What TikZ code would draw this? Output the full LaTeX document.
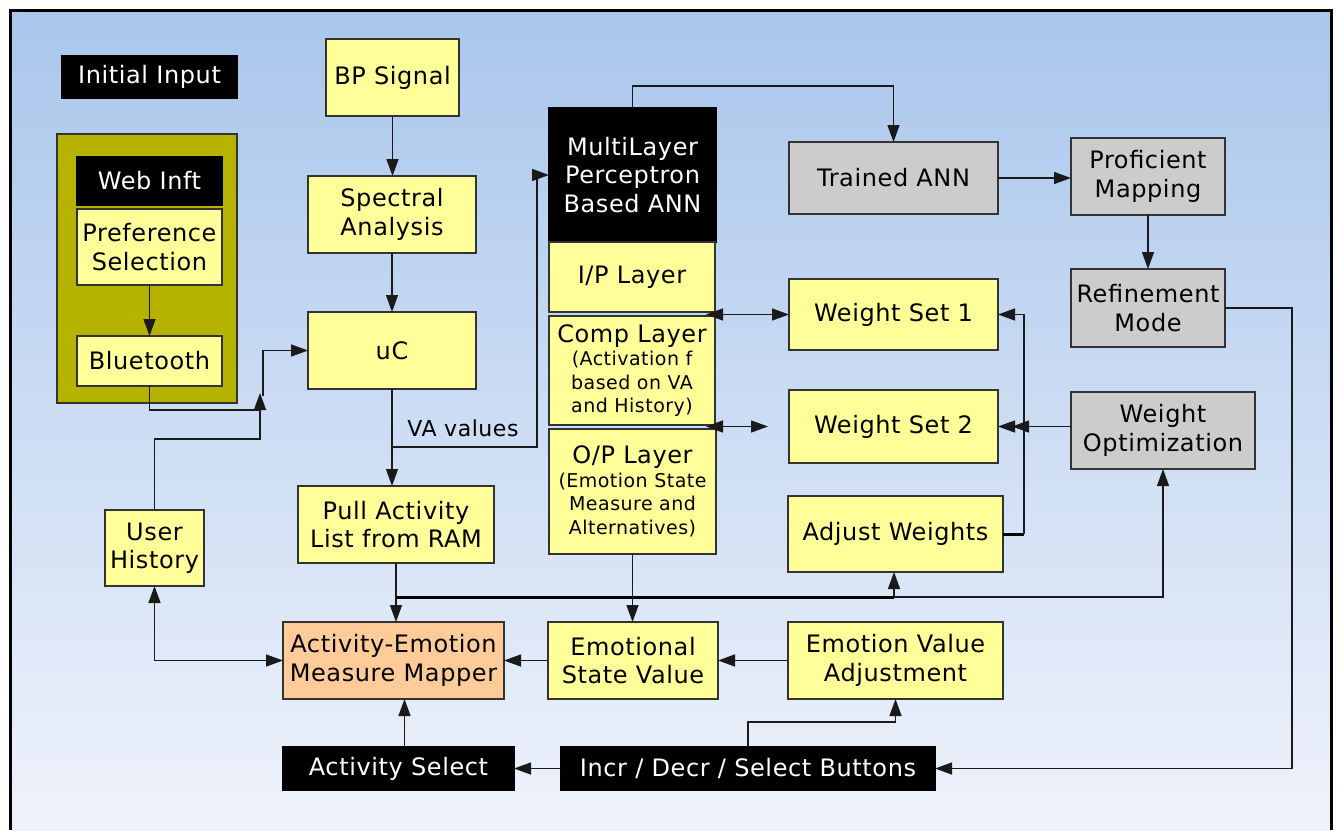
\documentclass[tikz,border=0pt]{standalone}
\usepackage{fontspec}
\setmainfont{DejaVu Sans}[LetterSpace=2.5]
\usetikzlibrary{arrows.meta,calc}
\definecolor{boxyellow}{HTML}{FFFF99}
\definecolor{boxgray}{HTML}{CCCCCC}
\definecolor{boxorange}{HTML}{FFCC99}
\definecolor{boxolive}{HTML}{B5B300}
\definecolor{boxline}{HTML}{333333}
\definecolor{linecol}{HTML}{1A1A1A}
\definecolor{bgtop}{HTML}{A9C6EC}
\definecolor{bgmid}{HTML}{DEE4F1}
\definecolor{bgbot}{HTML}{EFF3FB}
\newcommand\smtxt{\fontsize{19}{23}\selectfont}
\begin{document}
\begin{tikzpicture}[x=1pt,y=-1pt,
  box/.style={draw=boxline,line width=1.4pt,inner sep=0pt,outer sep=0pt,align=center,
    font=\fontsize{24}{28.5}\selectfont,text=black},
  ybox/.style={box,fill=boxyellow},
  gbox/.style={box,fill=boxgray},
  obox/.style={box,fill=boxorange},
  kbox/.style={box,fill=black,draw=black,text=white},
  conn/.style={draw=linecol,line width=1.4pt},
  arr/.style={conn,-{Triangle[length=17pt,width=12pt]}},
  darr/.style={conn,{Triangle[length=17pt,width=12pt]}-{Triangle[length=17pt,width=12pt]}},
  bus/.style={draw=black,line width=3pt}]
\useasboundingbox (0,0) rectangle (1338,830);
\fill[white] (0,0) rectangle (1338,830);
\shade[top color=bgtop,middle color=bgmid,bottom color=bgbot] (10,10) rectangle (1331,830);
\draw[black,line width=3pt] (10,830) -- (10,10) -- (1331,10) -- (1331,830);

% left group
\node[kbox,minimum width=175,minimum height=43] (init) at (149.5,77) {Initial Input};
\node[box,fill=boxolive,minimum width=180,minimum height=269] (olive) at (147,268.5) {};
\node[kbox,minimum width=145,minimum height=48] (web) at (149.5,181) {Web Inft};
\node[ybox,minimum width=145,minimum height=76] (pref) at (149.5,247) {Preference\\Selection};
\node[ybox,minimum width=145,minimum height=50] (bt) at (149.5,361) {Bluetooth};
\node[ybox,minimum width=99,minimum height=76] (uh) at (154.5,548) {User\\History};

% center column
\node[ybox,minimum width=133,minimum height=77] (bp) at (392.5,77.5) {BP Signal};
\node[ybox,minimum width=168,minimum height=77] (spec) at (392,214.5) {Spectral\\Analysis};
\node[ybox,minimum width=168,minimum height=77] (uc) at (392,350.5) {uC};
\node[ybox,minimum width=196,minimum height=77] (pull) at (396,524.5) {Pull Activity\\List from RAM};
\node[obox,minimum width=221,minimum height=77] (map) at (393.5,660.5) {Activity-Emotion\\Measure Mapper};
\node[kbox,minimum width=231,minimum height=43] (as) at (398.5,768.5) {Activity Select};

% ANN column
\node[kbox,minimum width=167,minimum height=134] (mlp) at (632.5,175) {MultiLayer\\Perceptron\\Based ANN};
\node[ybox,minimum width=166,minimum height=70] (ip) at (632,277) {I/P Layer};
\node[ybox,minimum width=166,minimum height=109] (comp) at (632,370.5)
  {Comp Layer\\[-5pt]{\smtxt (Activation f}\\[-5pt]{\smtxt based on VA}\\[-5pt]{\smtxt and History)}};
\node[ybox,minimum width=167,minimum height=125] (op) at (632.5,491.5)
  {O/P Layer\\[-5pt]{\smtxt (Emotion State}\\[-5pt]{\smtxt Measure and}\\[-5pt]{\smtxt Alternatives)}};
\node[ybox,minimum width=170,minimum height=77] (es) at (633,660.5) {Emotional\\State Value};
\node[kbox,minimum width=374,minimum height=43] (incr) at (748,768.5) {Incr / Decr / Select Buttons};

% right columns
\node[gbox,minimum width=209,minimum height=72] (tr) at (893.5,178) {Trained ANN};
\node[ybox,minimum width=209,minimum height=71] (ws1) at (893.5,314.5) {Weight Set 1};
\node[ybox,minimum width=209,minimum height=73] (ws2) at (893.5,426.5) {Weight Set 2};
\node[ybox,minimum width=215,minimum height=76] (adj) at (895.5,534) {Adjust Weights};
\node[ybox,minimum width=215,minimum height=77] (ea) at (895.5,660.5) {Emotion Value\\Adjustment};
\node[gbox,minimum width=154,minimum height=77] (prof) at (1148,176.5) {Proficient\\Mapping};
\node[gbox,minimum width=154,minimum height=78] (ref) at (1148,308) {Refinement\\Mode};
\node[gbox,minimum width=184,minimum height=77] (wo) at (1163,430.5) {Weight\\Optimization};

% label
\node[font=\fontsize{22}{26}\selectfont,inner sep=0pt] (valbl) at (463,428) {VA values};

% connectors
\draw[arr] (bp.south) -- (bp.south |- spec.north);
\draw[arr] (spec.south) -- (spec.south |- uc.north);
\draw[arr] (pref.south) -- (bt.north);
\coordinate (bj) at (260,410);
\draw[conn] (bt.south) |- (bj);
\coordinate (hj) at (260,393);
\draw[arr] (uh.north) |- (260,439) -- (hj);
\draw[arr] (263,396) |- (uc.west);
\draw[arr] (uc.south) -- (uc.south |- pull.north);
\coordinate (va) at (392,447);
\draw[arr] (va) -- (537,447) |- (mlp.west);
\draw[arr] (mlp.north) -- ++(0,-22) -| (tr.north);
\draw[arr] (tr.east) -- (tr.east -| prof.west);
\draw[arr] (prof.south) -- (ref.north);
\draw[arr] (ref.east) -- ++(67,0) |- (incr.east);
\draw[darr] ($(ws1.west)+(-83,0)$) -- (ws1.west);
\draw[darr] ($(ws2.west)+(-83,0)$) -- ($(ws2.west)+(-21,0)$);
\draw[bus] (adj.east) -- ++(21,0) coordinate (aj);
\draw[arr] (aj) |- (ws1.east);
\draw[arr] (aj |- ws2.east) -- (ws2.east);
\draw[arr] (wo.west |- ws2.east) -- ($(ws2.east)+(14,0)$);
\draw[arr] (pull.south) -- (pull.south |- map.north);
\coordinate (bl) at (396,597);
\coordinate (br) at (894,597);
\draw[bus] (bl) -- (br);
\draw[arr] (br) -- (br |- adj.south);
\draw[arr] (br) -| (wo.south);
\draw[arr] (op.south) -- (op.south |- es.north);
\draw[arr] (es.west) -- (map.east);
\draw[arr] (ea.west) -- (es.east);
\draw[darr] (uh.south) |- (map.west);
\draw[arr] ($(as.north)+(6,0)$) -- ($(map.south)+(11,0)$);
\draw[arr] (incr.west) -- (as.east);
\draw[arr] (incr.north) -- ++(0,-25) -| (ea.south);
\end{tikzpicture}
\end{document}
